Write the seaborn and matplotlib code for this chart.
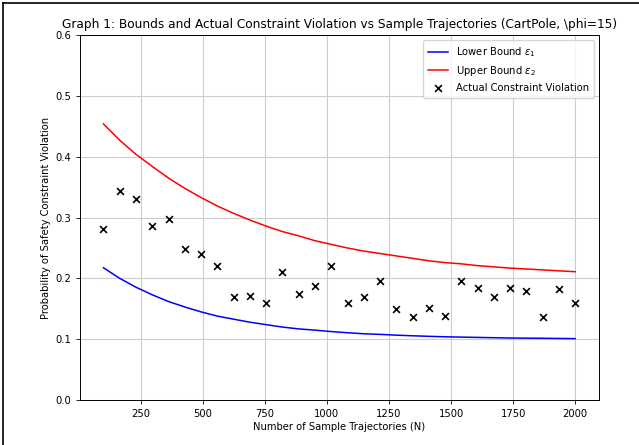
import matplotlib
matplotlib.use("Agg")
import pandas as pd
import seaborn as sns
from matplotlib import pyplot as plt
from matplotlib.lines import Line2D

# 樣本數 N
n_traj = [100, 166, 231, 297, 362, 428, 493, 559, 624, 690,
          755, 821, 886, 952, 1017, 1083, 1148, 1214, 1279, 1345,
          1410, 1476, 1541, 1607, 1672, 1738, 1803, 1869, 1934, 2000]
# 下界 epsilon_1
lower_bound = [0.2175, 0.200, 0.1855, 0.173, 0.162, 0.153, 0.145, 0.138, 0.133, 0.128,
               0.124, 0.120, 0.117, 0.115, 0.1126, 0.1107, 0.109, 0.108, 0.1067, 0.1057,
               0.1048, 0.104, 0.1035, 0.103, 0.1025, 0.102, 0.1018, 0.1016, 0.1013, 0.101]
# 上界 epsilon_2
upper_bound = [0.454, 0.427, 0.404, 0.384, 0.365, 0.348, 0.333, 0.319, 0.307, 0.296,
               0.286, 0.277, 0.270, 0.262, 0.256, 0.250, 0.245, 0.241, 0.237, 0.233,
               0.229, 0.226, 0.224, 0.221, 0.219, 0.217, 0.2155, 0.214, 0.2125, 0.211]
# 實際違規機率
actual = [0.282, 0.344, 0.330, 0.286, 0.297, 0.249, 0.240, 0.220, 0.169, 0.171,
          0.159, 0.210, 0.175, 0.188, 0.220, 0.159, 0.170, 0.195, 0.150, 0.136,
          0.151, 0.139, 0.195, 0.184, 0.170, 0.185, 0.179, 0.136, 0.182, 0.159]

df = pd.DataFrame({"N": n_traj, "lower": lower_bound, "upper": upper_bound, "actual": actual})

fig = plt.figure(figsize=(6.39, 4.45), dpi=100)
ax = fig.add_axes([0.125, 0.101, 0.812, 0.820])

sns.lineplot(data=df, x="N", y="lower", ax=ax, color="blue", linewidth=1.1,
             label=r"Lower Bound $\epsilon_1$")
sns.lineplot(data=df, x="N", y="upper", ax=ax, color="red", linewidth=1.1,
             label=r"Upper Bound $\epsilon_2$")
sns.scatterplot(data=df, x="N", y="actual", ax=ax, marker="x", color="black",
                s=24, linewidth=1.2, label="Actual Constraint Violation", zorder=3)

ax.set_ylim(0, 0.6)
ax.set_yticks([0.0, 0.1, 0.2, 0.3, 0.4, 0.5, 0.6])
ax.set_xticks([250, 500, 750, 1000, 1250, 1500, 1750, 2000])
ax.grid(True, color="#cccccc", linewidth=0.8)
ax.set_axisbelow(True)
ax.tick_params(labelsize=7.2, length=2.8, width=0.6)
for sp in ax.spines.values():
    sp.set_linewidth(0.7)

ax.set_title(r"Graph 1: Bounds and Actual Constraint Violation vs Sample Trajectories (CartPole, \phi=15)",
             fontsize=8.7, pad=5.5)
ax.set_xlabel("Number of Sample Trajectories (N)", fontsize=7.2, labelpad=2.5)
ax.set_ylabel("Probability of Safety Constraint Violation", fontsize=7.2, labelpad=3)
ax.legend(loc="upper right", fontsize=7.2, framealpha=0.8, borderpad=0.5)

# 截圖邊框
fig.add_artist(Line2D([0.005, 1.0], [0.993, 0.993], color="black", linewidth=1.2))
fig.add_artist(Line2D([0.005, 0.005], [0.0, 0.993], color="black", linewidth=1.2))

fig.savefig("out.png", dpi=100)
